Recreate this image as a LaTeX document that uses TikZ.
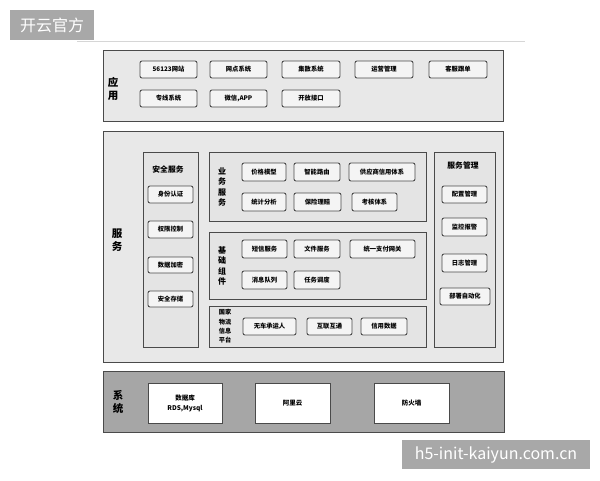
\documentclass[tikz,border=0pt]{standalone}
\usepackage{fontspec}
\setmainfont{Noto Sans CJK SC}
\definecolor{outerfill}{HTML}{E8E8E8}
\definecolor{groupfill}{HTML}{E4E4E4}
\definecolor{btnfill}{HTML}{F4F4F4}
\definecolor{sysfill}{HTML}{A6A6A6}
\definecolor{wmfill}{HTML}{A8A8A8}
\definecolor{rulecol}{HTML}{D6D6D6}
\definecolor{edge}{HTML}{4A4A4A}
\newcommand\mybox[7]{\node[#1, minimum width={(#5-#3)*1pt}, minimum height={(#6-#4)*1pt}] (#2) at ({(#3+#5)/2},{(#4+#6)/2}) {#7};}
\tikzset{
  every node/.style={inner sep=0pt, outer sep=0pt},
  layer/.style={draw=edge, line width=1pt, fill=outerfill},
  group/.style={draw=edge, line width=0.9pt, fill=groupfill},
  btn/.style={draw=edge, line width=0.9pt, fill=btnfill, rounded corners=2pt, font=\fontsize{6.3}{7}\selectfont\bfseries},
  sysbtn/.style={draw=edge, line width=0.9pt, fill=white, align=center, font=\fontsize{6.5}{10}\selectfont\bfseries},
  syslayer/.style={draw=edge, line width=1pt, fill=sysfill},
  biglabel/.style={align=center, font=\fontsize{10.5}{12.5}\selectfont\bfseries},
  vlabel/.style={align=center, font=\fontsize{8}{10.5}\selectfont\bfseries},
  smallv/.style={align=center, font=\fontsize{6.2}{9.3}\selectfont\bfseries},
  title/.style={font=\fontsize{7.8}{9}\selectfont\bfseries},
  wm/.style={fill=wmfill, text=white}
}
\begin{document}
\begin{tikzpicture}[x=1pt,y=-1pt]
\useasboundingbox (0,0) rectangle (600,480);
% watermark and rule
\mybox{wm, font=\fontsize{16}{18}\selectfont}{wmA}{10}{10}{94}{40}{开云官方}
\draw[rulecol, line width=1pt] (77,41.5) -- (525,41.5);
% application layer
\mybox{layer}{app}{103}{50}{503}{121}{}
\node[biglabel] (appl) at (113,89) {应\\用};
\mybox{btn}{a1}{140}{61}{197}{78}{56123网站}
\mybox{btn}{a2}{210}{61}{267}{78}{网点系统}
\mybox{btn}{a3}{282}{61}{340}{78}{集散系统}
\mybox{btn}{a4}{355}{61}{413}{78}{运营管理}
\mybox{btn}{a5}{429}{61}{487}{78}{客服跟单}
\mybox{btn}{b1}{140}{90}{197}{107}{专线系统}
\mybox{btn}{b2}{210}{90}{267}{107}{微信,APP}
\mybox{btn}{b3}{282}{90}{340}{107}{开放接口}
% service layer
\mybox{layer}{svc}{103}{131}{503}{362}{}
\node[biglabel] (svcl) at (117,240) {服\\务};
% security
\mybox{group}{sec}{143}{152}{198}{347}{}
\node[title] (sect) at (168,170) {安全服务};
\mybox{btn}{s1}{148}{186}{193}{203}{身份认证}
\mybox{btn}{s2}{148}{221}{193}{238}{权限控制}
\mybox{btn}{s3}{148}{257}{193}{273}{数据加密}
\mybox{btn}{s4}{148}{291}{193}{307}{安全存储}
% business services
\mybox{group}{biz}{209}{152}{426}{221}{}
\node[vlabel] (bizl) at (222,187) {业\\务\\服\\务};
\mybox{btn}{p1}{242}{163}{286}{181}{价格模型}
\mybox{btn}{p2}{294}{163}{340}{181}{智能路由}
\mybox{btn}{p3}{349}{163}{415}{181}{供应商信用体系}
\mybox{btn}{p4}{242}{193}{286}{211}{统计分析}
\mybox{btn}{p5}{294}{193}{341}{211}{保险理赔}
\mybox{btn}{p6}{352}{193}{397}{211}{考核体系}
% base components
\mybox{group}{base}{209}{232}{426}{299}{}
\node[vlabel] (basel) at (222,266) {基\\础\\组\\件};
\mybox{btn}{q1}{242}{240}{287}{258}{短信服务}
\mybox{btn}{q2}{294}{240}{340}{258}{文件服务}
\mybox{btn}{q3}{350}{240}{415}{258}{统一支付网关}
\mybox{btn}{q4}{242}{271}{287}{289}{消息队列}
\mybox{btn}{q5}{294}{271}{340}{289}{任务调度}
% logistics platform
\mybox{group}{plat}{209}{306}{426}{347}{}
\node[smallv] (platl) at (225,326.5) {国家\\物流\\信息\\平台};
\mybox{btn}{r1}{243}{318}{296}{335}{无车承运人}
\mybox{btn}{r2}{307}{318}{352}{335}{互联互通}
\mybox{btn}{r3}{361}{318}{407}{335}{信用数据}
% service management
\mybox{group}{mgmt}{434}{152}{495}{347}{}
\node[title] (mgmtt) at (463,166) {服务管理};
\mybox{btn}{m1}{442}{186}{487}{203}{配置管理}
\mybox{btn}{m2}{442}{218}{487}{236}{监控报警}
\mybox{btn}{m3}{442}{254}{487}{272}{日志管理}
\mybox{btn}{m4}{440}{288}{490}{305}{部署自动化}
% system layer
\mybox{syslayer}{sys}{103}{371}{504}{432}{}
\node[biglabel] (sysl) at (118,402) {系\\统};
\mybox{sysbtn}{d1}{148}{383}{222}{423}{数据库\\RDS,Mysql}
\mybox{sysbtn}{d2}{255}{383}{330}{423}{阿里云}
\mybox{sysbtn}{d3}{374}{383}{449}{423}{防火墙}
% bottom watermark
\mybox{wm, font=\fontsize{16}{18}\selectfont}{wmB}{402}{440}{590}{469}{h5-init-kaiyun.com.cn}
\end{tikzpicture}
\end{document}
